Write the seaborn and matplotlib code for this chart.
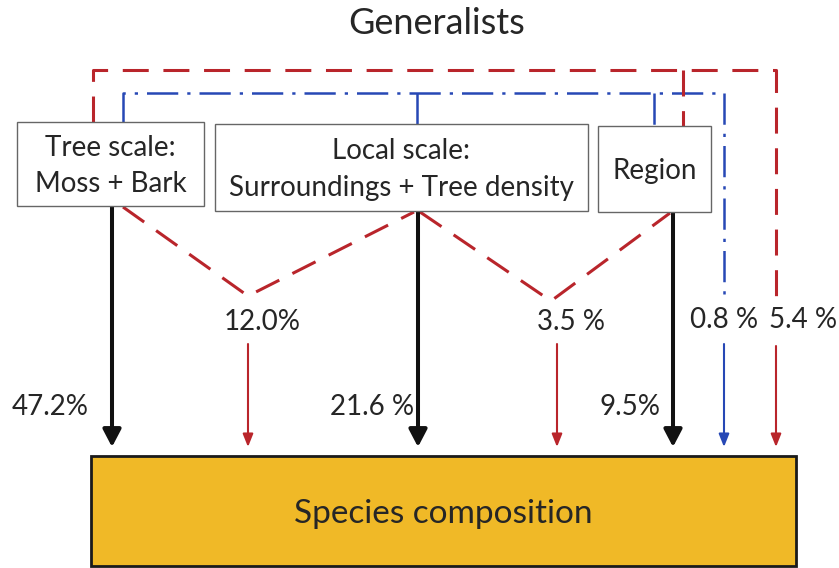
import matplotlib
matplotlib.use("Agg")
import matplotlib.pyplot as plt
import seaborn as sns
from matplotlib.patches import Rectangle

sns.set_theme(style="white")
plt.rcParams['font.family'] = ['Lato', 'DejaVu Sans']

# ---- chart content ----
title = "Generalists"
box_labels = ["Tree scale:\nMoss + Bark",
              "Local scale:\nSurroundings + Tree density",
              "Region"]
target_label = "Species composition"
unique_pct = ["47.2%", "21.6 %", "9.5%"]        # black arrows
shared_pct = ["12.0%", "3.5 %"]                 # red V paths
blue_pct = "0.8 %"                              # tree + local + region (blue)
red_all_pct = "5.4 %"                           # tree + region (red outer)

# ---- layout (pixel coords, y downwards) ----
W, H = 839, 568
RED = "#B9252B"
BLUE = "#2748B5"
TXT = "#262626"

boxes = [(17, 122, 204, 206), (215, 124, 588, 211), (598, 126, 711, 212)]
black_x = [112, 418, 673]
tip_y = 447
target = (91, 456, 796, 566)

fig = plt.figure(figsize=(W / 100, H / 100), dpi=100)
ax = fig.add_axes([0, 0, 1, 1])
ax.set_xlim(0, W)
ax.set_ylim(H, 0)
ax.axis("off")

ax.text(437, 24, title, ha="center", va="center", fontsize=26, color=TXT)

# predictor boxes
for (x0, y0, x1, y1), lab in zip(boxes, box_labels):
    ax.add_patch(Rectangle((x0, y0), x1 - x0, y1 - y0, facecolor="white",
                           edgecolor="#666666", lw=1.0, zorder=3))
    ax.text((x0 + x1) / 2, (y0 + y1) / 2 + 2, lab, ha="center", va="center",
            fontsize=20, color=TXT, linespacing=1.5, zorder=4)

# target box
tx0, ty0, tx1, ty1 = target
ax.add_patch(Rectangle((tx0, ty0), tx1 - tx0, ty1 - ty0, facecolor="#F0B927",
                       edgecolor="#1a1a1a", lw=2.0, zorder=3))
ax.text((tx0 + tx1) / 2, (ty0 + ty1) / 2 + 3, target_label, ha="center",
        va="center", fontsize=24, color=TXT, zorder=4)


def arrow(x, y0, color, lw, ms, style):
    ax.annotate("", xy=(x, tip_y), xytext=(x, y0),
                arrowprops=dict(arrowstyle=style, color=color, lw=lw,
                                mutation_scale=ms, shrinkA=0, shrinkB=0),
                zorder=2)


red_dash = dict(color=RED, lw=2.2, dashes=(8.5, 4.8), solid_capstyle="butt",
                dash_capstyle="butt", zorder=1)
blue_dd = dict(color=BLUE, lw=1.8, dashes=(12.5, 3.6, 1.3, 3.6),
               dash_capstyle="butt", zorder=1)

# unique effects: black arrows
for x, (b, pct), lx in zip(black_x, zip(boxes, unique_pct), [50, 372, 630]):
    arrow(x, b[3], "#111111", 2.9, 25, "-|>,head_length=0.42,head_width=0.22")
    ax.text(lx, 407, pct, ha="center", va="center", fontsize=20, color=TXT)

# shared effects between neighbouring boxes: red V
v_paths = [((123, 207), (248, 296), (414, 212)),
           ((420, 212), (551, 301), (670, 213))]
for path, pct, ax_x in zip(v_paths, shared_pct, [248, 557]):
    xs, ys = zip(*path)
    ax.plot(xs, ys, **red_dash)
    ax.text(ax_x + 14, 322, pct, ha="center", va="center", fontsize=20,
            color=TXT)
    arrow(ax_x, 344, RED, 1.5, 14, "-|>,head_length=0.55,head_width=0.22")

# blue dash-dot bracket over all three boxes
bx, by = 724, 93
ax.plot([123, 123, bx, bx], [122, by, by, 298], **blue_dd)
ax.plot([417, 417], [by, 124], **blue_dd)
ax.plot([654, 654], [by, 126], **blue_dd)
ax.text(bx, 320, blue_pct, ha="center", va="center", fontsize=20, color=TXT)
arrow(bx, 344, BLUE, 1.5, 14, "-|>,head_length=0.55,head_width=0.22")

# red dashed outer bracket (tree + region)
rx, ry = 776, 70
ax.plot([93, 93, rx, rx], [122, ry, ry, 300], **red_dash)
ax.plot([683, 683], [ry, 126], **red_dash)
ax.text(rx + 27, 320, red_all_pct, ha="center", va="center", fontsize=20,
        color=TXT)
arrow(rx, 346, RED, 1.5, 14, "-|>,head_length=0.55,head_width=0.22")

fig.savefig("out.png", dpi=100, facecolor="white")
